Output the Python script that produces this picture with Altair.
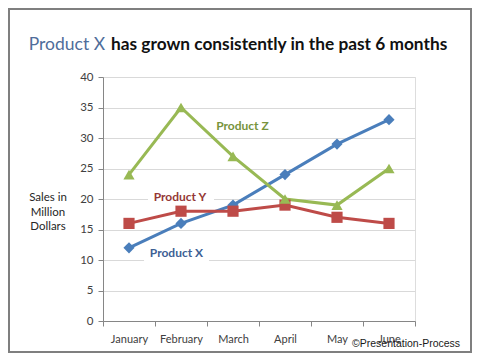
import altair as alt
import pandas as pd

months = ["January", "February", "March", "April", "May", "June"]
product_x = [12, 16, 19, 24, 29, 33]
product_y = [16, 18, 18, 19, 17, 16]
product_z = [24, 35, 27, 20, 19, 25]
series_names = ["Product X", "Product Y", "Product Z"]
series_colors = ["#4a7ebb", "#be4b48", "#98b954"]
label_colors = ["#3d5f94", "#953735", "#77933c"]
series_shapes = ["diamond", "square", "triangle-up"]

title_blue = "Product X"
title_rest = "has grown consistently in the past 6 months"
y_title = ["Sales in", "Million", "Dollars"]
y_ticks = [0, 5, 10, 15, 20, 25, 30, 35, 40]
credit = "\u00a9Presentation-Process"

# series label anchors: (name, month, value, dx, background path, colour)
labels = [
    ("Product Z", "March", 32.0, 9.5, None, label_colors[2]),
    ("Product Y", "February", 20.3, -1, "M-1,-0.2H1V0.2H-1Z", label_colors[1]),
    ("Product X", "February", 11.2, -4.5, "M-1.12,-0.2H0.85V0.3H-1.12Z", label_colors[0]),
]

rows = []
for name, vals in zip(series_names, [product_x, product_y, product_z]):
    for m, v in zip(months, vals):
        rows.append({"month": m, "sales": v, "series": name})
df = pd.DataFrame(rows)

FONT = "Lato"
W, H = 312, 244

x_enc = alt.X("month:N", sort=months,
              scale=alt.Scale(type="band", domain=months, paddingInner=0, paddingOuter=0),
              axis=alt.Axis(title=None, grid=False, tickBand="extent", labelAngle=0,
                            domainColor="#868686", tickColor="#868686", tickSize=5,
                            labelFont=FONT, labelFontSize=11, labelColor="#404040",
                            labelPadding=7))
y_enc = alt.Y("sales:Q", scale=alt.Scale(domain=[0, 40], nice=False, zero=True),
              axis=alt.Axis(title=None, values=y_ticks, grid=True, gridColor="#d9d9d9",
                            domainColor="#868686", tickColor="#868686", tickSize=5,
                            labelFont=FONT, labelFontSize=11.5, labelColor="#404040",
                            labelPadding=5, labelOverlap=False))
color_enc = alt.Color("series:N", scale=alt.Scale(domain=series_names, range=series_colors),
                      legend=None)
shape_enc = alt.Shape("series:N", scale=alt.Scale(domain=series_names, range=series_shapes),
                      legend=None)

base = alt.Chart(df)
lines = base.mark_line(strokeWidth=3).encode(x=x_enc, y=y_enc, color=color_enc,
                                             detail="series:N")
points = base.mark_point(filled=True, size=125, opacity=1).encode(
    x=x_enc, y=y_enc, color=color_enc, shape=shape_enc)

layers = []
# white backgrounds behind labels (cover gridlines)
for name, m, v, dx, bg, col in labels:
    if bg is None:
        continue
    d = pd.DataFrame({"month": [m], "sales": [v], "bg": [bg]})
    layers.append(alt.Chart(d).mark_point(filled=True, color="white", opacity=1, size=4356,
                                          strokeWidth=0).encode(
        x=x_enc, y=y_enc, shape=alt.Shape("bg:N", scale=None)))

layers += [lines, points]

for name, m, v, dx, bg, col in labels:
    d = pd.DataFrame({"month": [m], "sales": [v], "label": [name]})
    layers.append(alt.Chart(d).mark_text(font=FONT, fontSize=12, fontWeight="bold",
                                         color=col, dx=dx, align="center",
                                         baseline="middle").encode(
        x=x_enc, y=y_enc, text="label:N"))

one = pd.DataFrame({"a": [0]})
# title pieces
layers.append(alt.Chart(one).mark_text(font=FONT, fontSize=17.5, color="#4f6d9a",
                                       align="right", baseline="middle").encode(
    x=alt.value(2), y=alt.value(-32), text=alt.value(title_blue)))
layers.append(alt.Chart(one).mark_text(font=FONT, fontSize=17.3, fontWeight="bold",
                                       color="#111111", align="left",
                                       baseline="middle").encode(
    x=alt.value(8), y=alt.value(-32), text=alt.value(title_rest)))
# y-axis title
layers.append(alt.Chart(one).mark_text(font=FONT, fontSize=11.5, color="#262626",
                                       align="center", baseline="middle",
                                       lineHeight=14.5).encode(
    x=alt.value(-55), y=alt.value(121), text=alt.value(y_title)))
# credit
layers.append(alt.Chart(one).mark_text(font="Liberation Sans", fontSize=10.5, color="#1a1a1a",
                                       align="left", baseline="middle").encode(
    x=alt.value(249), y=alt.value(267), text=alt.value(credit)))
# outer frame
layers.append(alt.Chart(one).mark_rect(fill=None, fillOpacity=0, stroke="#7f7f7f",
                                       strokeWidth=2).encode(
    x=alt.value(-94), x2=alt.value(368), y=alt.value(-68), y2=alt.value(275)))

chart = alt.layer(*layers).properties(
    width=W, height=H,
    autosize=alt.AutoSizeParams(type="none"),
    padding={"left": 95, "top": 69, "right": 57, "bottom": 32},
).configure_view(stroke=None).configure(background="white")

chart.save("out.html", embed_options={"renderer": "svg", "actions": False})
